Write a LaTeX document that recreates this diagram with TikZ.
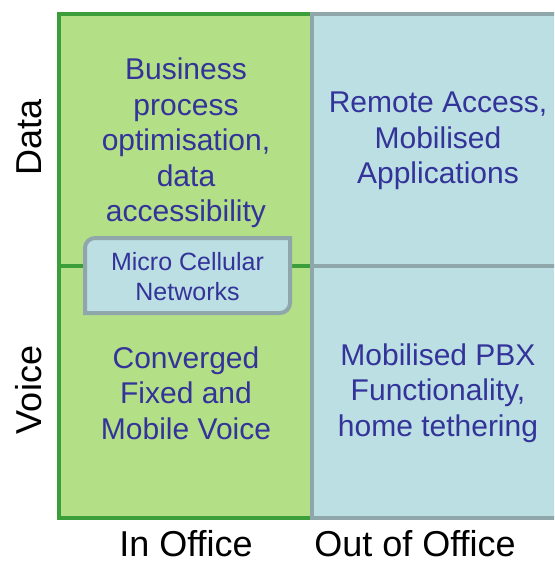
\documentclass[tikz,border=0pt]{standalone}
\usepackage{fontspec}
\setmainfont{Liberation Sans}
\definecolor{ingreen}{HTML}{B3DF87}
\definecolor{ingreenline}{HTML}{3C9E3A}
\definecolor{outblue}{HTML}{BBDFE2}
\definecolor{outblueline}{HTML}{8FA7AA}
\definecolor{celltext}{HTML}{333399}
\tikzset{
  cell/.style={align=center,text=celltext,inner sep=0pt,font=\fontsize{30}{35.5}\selectfont},
  axislabel/.style={inner sep=0pt,font=\fontsize{36}{40}\selectfont},
}

\begin{document}
\begin{tikzpicture}[x=1pt,y=-1pt]
        \clip(0,0)rectangle(554,562);
        \fill[white](0,0)rectangle(554,562);

        % in office / out of office
        \filldraw[fill=ingreen,draw=ingreenline,line width=4pt](59,14)rectangle(312,518);
        \draw[ingreenline,line width=4pt](59,266)--(312,266);
        \filldraw[fill=outblue,draw=outblueline,line width=4pt](312,14)rectangle(600,518);
        \draw[outblueline,line width=4pt](312,266)--(600,266);

        \filldraw[fill=outblue,draw=outblueline,line width=4pt](85,313)--(85,248)..controls(85,242.5)and(89.5,238)..(95,238)--(290,238)--(290,303)..controls(290,308.5)and(285.5,313)..(280,313)--cycle;

        \node[cell](dataIn)at(186,143){Business\\process\\optimisation,\\data\\accessibility};
        \node[cell](dataOut)at(438,141){Remote Access,\\Mobilised\\Applications};
        \node[cell](voiceIn)at(186,393){Converged\\Fixed and\\Mobile Voice};
        \node[cell](voiceOut)at(438,393){Mobilised PBX\\Functionality,\\home tethering};
        \node[cell,font=\fontsize{25}{30}\selectfont](micro)at(187.5,277){Micro Cellular\\Networks};

        \node[axislabel,rotate=90](data)at(29,137){Data};
        \node[axislabel,rotate=90](voice)at(29,390){Voice};
        \node[axislabel,anchor=base](inOffice)at(186,556){In Office};
        \node[axislabel,anchor=base](outOffice)at(415,556){Out of Office};
    \end{tikzpicture}
\end{document}
